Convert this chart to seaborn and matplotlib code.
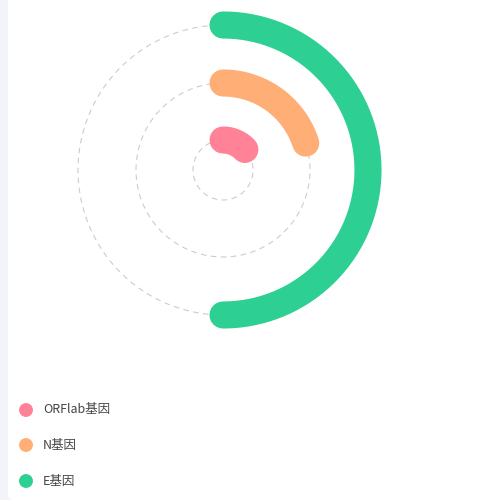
import numpy as np
import matplotlib
matplotlib.use("Agg")
import matplotlib.pyplot as plt
from matplotlib.patches import FancyBboxPatch
import seaborn as sns

# data
genes = ["ORFlab基因", "N基因", "E基因"]
values = [13, 20, 50]          # percent of a full turn
max_value = 100
colors = ["#ff8296", "#ffae76", "#2ecf92"]

sns.set_theme(style="white")
plt.rcParams["font.family"] = ["Noto Sans CJK SC", "DejaVu Sans"]

W = H = 500
fig = plt.figure(figsize=(5, 5), dpi=100, facecolor="#f3f4f9")

# background panel in pixel coords
bg = fig.add_axes([0, 0, 1, 1], zorder=0)
bg.set_xlim(0, W); bg.set_ylim(H, 0); bg.axis("off")
bg.add_patch(FancyBboxPatch((8, -10), 520, 511, boxstyle="round,pad=0,rounding_size=8",
                            facecolor="white", edgecolor="none"))

# polar bars
cx, cy, rmax = 223, 170, 160
ax = fig.add_axes([(cx - rmax) / W, (H - cy - rmax) / H, 2 * rmax / W, 2 * rmax / H],
                  projection="polar", zorder=1)
ax.patch.set_alpha(0)
ax.set_theta_zero_location("N")
ax.set_theta_direction(-1)
ax.set_ylim(0, rmax)
ring_r = [30, 87, 145]
full = np.linspace(0, 2 * np.pi, 400)
for r, v, c in zip(ring_r, values, colors):
    ax.plot(full, np.full_like(full, r), color="#cccccc", lw=0.8, ls=(0, (5, 4)), zorder=1)
    th = np.linspace(0, 2 * np.pi * v / max_value, 200)
    ax.plot(th, np.full_like(th, r), color=c, lw=19.5, solid_capstyle="round", zorder=2)
ax.grid(False)
ax.set_xticks([]); ax.set_yticks([])
ax.spines["polar"].set_visible(False)

# legend
leg_y = [410, 445, 481]
for g, c, y in zip(genes, colors, leg_y):
    bg.scatter(26, y, s=100, color=c, edgecolor="none", zorder=3)
    bg.text(43, y, g, fontsize=9, color="#444444", va="center", ha="left", zorder=3)

fig.savefig("out.png", dpi=100, facecolor=fig.get_facecolor())
